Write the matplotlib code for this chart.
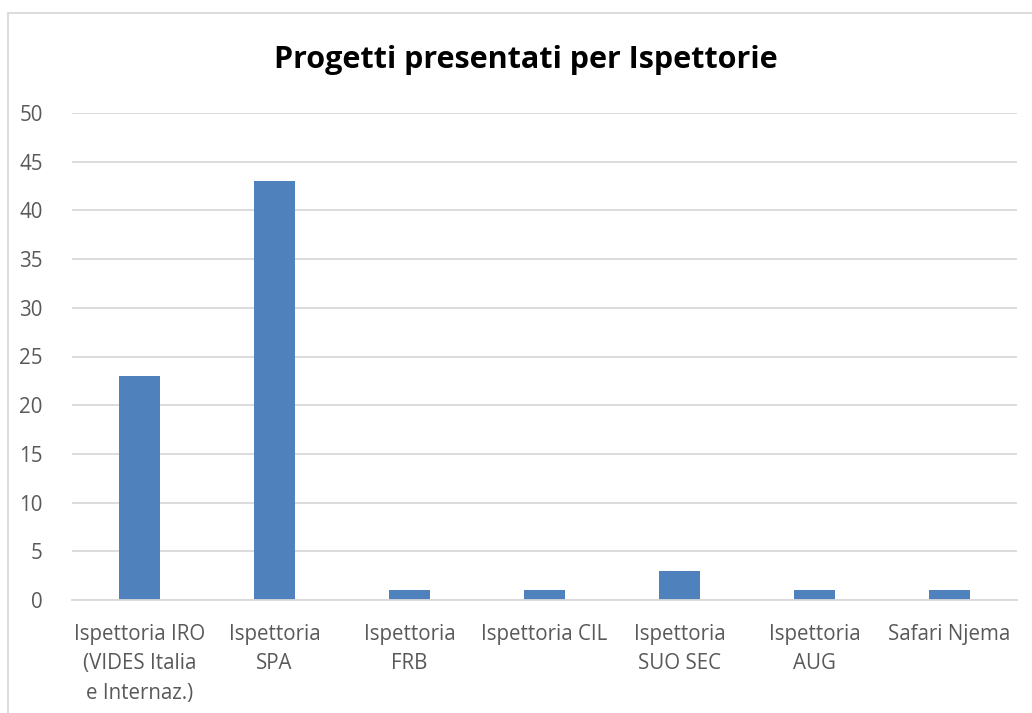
import matplotlib
matplotlib.use("Agg")
import matplotlib.pyplot as plt
from matplotlib.patches import Rectangle

categories = ["Ispettoria IRO\n(VIDES Italia\ne Internaz.)", "Ispettoria\nSPA", "Ispettoria\nFRB",
              "Ispettoria CIL", "Ispettoria\nSUO SEC", "Ispettoria\nAUG", "Safari Njema"]
values = [23, 43, 1, 1, 3, 1, 1]
yticks = [0, 5, 10, 15, 20, 25, 30, 35, 40, 45, 50]

plt.rcParams['font.family'] = ['Open Sans', 'DejaVu Sans']

fig = plt.figure(figsize=(10.32, 7.13), dpi=100)
ax = fig.add_axes([72/1032, 1-600/713, (1017-72)/1032, (600-113)/713])

x = list(range(len(categories)))
ax.bar(x, values, width=0.31, color="#4F81BD", zorder=3)
ax.set_xlim(-0.5, len(categories)-0.5)
ax.set_ylim(0, 50)
ax.set_yticks(yticks)
ax.set_xticks(x)
ax.set_xticklabels(categories, fontsize=14.8, color="#595959", linespacing=1.55)
ax.tick_params(axis='y', labelsize=14.8, labelcolor="#595959", length=0, pad=21)
ax.tick_params(axis='x', length=0, pad=17)
for lbl in ax.get_yticklabels():
    lbl.set_horizontalalignment('right')
ax.grid(axis='y', color="#D9D9D9", linewidth=1.3, zorder=0)
for s in ['top', 'right', 'left']:
    ax.spines[s].set_visible(False)
ax.spines['bottom'].set_color("#D9D9D9")
ax.spines['bottom'].set_linewidth(1.3)
ax.spines['bottom'].set_zorder(4)

fig.text(526/1032, 1-60/713, "Progetti presentati per Ispettorie", ha='center', va='center',
         fontsize=22, fontweight='bold', color='black')

fig.patches.append(Rectangle((8/1032, -0.05), 1.2, 1-13/713+0.05, transform=fig.transFigure,
                             fill=False, edgecolor="#D9D9D9", linewidth=1.3))

fig.savefig("out.png", dpi=100)
